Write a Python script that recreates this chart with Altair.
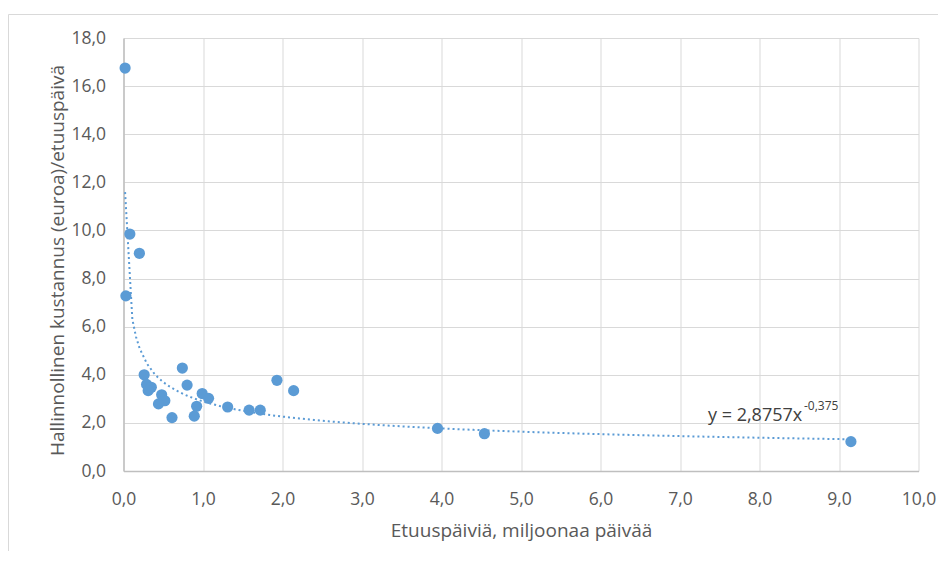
import altair as alt
import pandas as pd

# Data (x = million benefit days, y = admin cost €/day)
x_vals = [0.02, 0.08, 0.20, 0.03, 0.26, 0.74, 0.29, 0.35, 0.31, 0.48, 0.52, 0.44,
          0.80, 0.61, 0.99, 1.07, 0.92, 0.89, 1.31, 1.58, 1.72, 1.93, 2.14,
          3.95, 4.54, 9.15]
y_vals = [16.75, 9.85, 9.05, 7.28, 4.00, 4.28, 3.60, 3.48, 3.34, 3.17, 2.92, 2.79,
          3.57, 2.22, 3.22, 3.02, 2.69, 2.28, 2.66, 2.53, 2.53, 3.77, 3.34,
          1.77, 1.55, 1.22]

x_ticks = [0, 1, 2, 3, 4, 5, 6, 7, 8, 9, 10]
y_ticks = [0, 2, 4, 6, 8, 10, 12, 14, 16, 18]

eq_main = "y = 2,8757x"
eq_exp = "-0,375"

df = pd.DataFrame({"x": x_vals, "y": y_vals})

BLUE = "#5B9BD5"
FONT = "Open Sans"
W, H = 795, 433

label_expr = "replace(format(datum.value, '.1f'), '.', ',')"

xenc = alt.X("x:Q", scale=alt.Scale(domain=[0, 10], nice=False),
             axis=alt.Axis(values=x_ticks, labelExpr=label_expr,
                           title="Etuuspäiviä, miljoonaa päivää",
                           titleY=50, labelPadding=19.5, labelFlush=False))
yenc = alt.Y("y:Q", scale=alt.Scale(domain=[0, 18], nice=False),
             axis=alt.Axis(values=y_ticks, labelExpr=label_expr,
                           title="Hallinnollinen kustannus (euroa)/etuuspäivä",
                           titleX=-60, titleY=222, titleBaseline="alphabetic",
                           labelPadding=18, labelFlush=False))

base = alt.Chart(df)

points = base.mark_circle(size=125, color=BLUE, opacity=1).encode(x=xenc, y=yenc)

trend = base.transform_regression("x", "y", method="pow").mark_line(
    color=BLUE, strokeWidth=2, strokeDash=[2, 3]
).encode(x="x:Q", y="y:Q")

eq1 = alt.Chart(pd.DataFrame({"t": [eq_main]})).mark_text(
    align="left", baseline="alphabetic", fontSize=18, font=FONT, color="#404040"
).encode(x=alt.value(584.5), y=alt.value(383.3), text="t:N")

eq2 = alt.Chart(pd.DataFrame({"t": [eq_exp]})).mark_text(
    align="left", baseline="alphabetic", fontSize=12, font=FONT, color="#404040"
).encode(x=alt.value(680.5), y=alt.value(371.7), text="t:N")

frame_top = alt.Chart(pd.DataFrame({"a": [0]})).mark_rule(color="#d9d9d9", strokeWidth=1).encode(
    x=alt.value(-115), x2=alt.value(830), y=alt.value(-23.5))
frame_left = alt.Chart(pd.DataFrame({"a": [0]})).mark_rule(color="#d9d9d9", strokeWidth=1).encode(
    x=alt.value(-115), y=alt.value(-23.5), y2=alt.value(560))

chart = alt.layer(trend, points, eq1, eq2, frame_top, frame_left).properties(
    width=W, height=H,
    autosize=alt.AutoSizeParams(type="none"),
    padding={"left": 115.5, "top": 30, "right": 19.5, "bottom": 80},
).configure_view(stroke=None).configure_axis(
    labelFont=FONT, titleFont=FONT, labelFontSize=17.5, titleFontSize=19,
    labelColor="#595959", titleColor="#595959", titleFontWeight="normal",
    gridColor="#d9d9d9", gridWidth=1, domainColor="#bfbfbf", domainWidth=1.5,
    ticks=False,
)

chart.save("out.html", embed_options={"renderer": "svg", "actions": False})
